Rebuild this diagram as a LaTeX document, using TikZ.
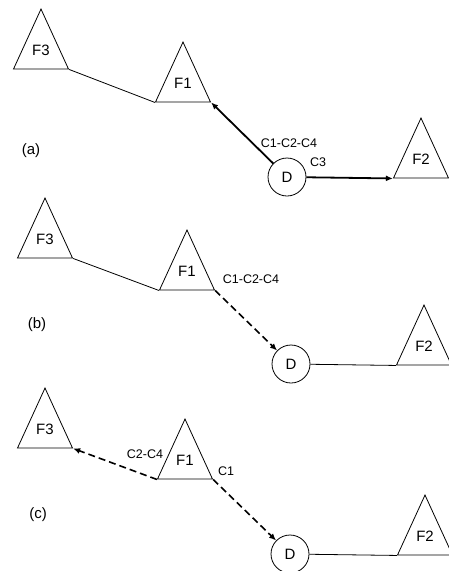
\documentclass[tikz,border=0pt]{standalone}
\usepackage{fontspec}
\setmainfont{Liberation Sans}
\usetikzlibrary{arrows.meta,shapes.geometric}
\tikzset{
  facbox/.style={draw,isosceles triangle,isosceles triangle stretches,shape border rotate=90,minimum width=55pt,minimum height=60pt,inner sep=0pt,anchor=apex,text depth=7pt,line width=0.8pt,font=\fontsize{15}{17}\selectfont},
  depbox/.style={draw,circle,minimum size=38pt,inner sep=0pt,line width=0.8pt,font=\fontsize{15}{17}\selectfont},
  thinlink/.style={line width=0.8pt},
  moveflow/.style={-{Latex[length=7pt,width=6pt]},line width=1.8pt},
  moveplan/.style={-{Latex[length=7pt,width=6pt]},line width=1.6pt,dash pattern=on 7pt off 4pt},
  cutlabel/.style={font=\fontsize{12.5}{14}\selectfont,inner sep=1pt},
  panlabel/.style={font=\fontsize{15}{17}\selectfont},
}
\begin{document}
\begin{tikzpicture}[x=1pt,y=-1pt]
\useasboundingbox (0,0) rectangle (448,571);

% (a)
\node[facbox] (a3) at (41,8) {F3};
\node[facbox] (a1) at (183,41) {F1};
\node[facbox] (a2) at (421,117) {F2};
\node[depbox] (ad) at (287,177) {D};
\node[panlabel] (apan) at (31,151) {(a)};
\node[cutlabel] (ac1) at (289,143) {C1-C2-C4};
\node[cutlabel] (ac3) at (318,162) {C3};
\draw[thinlink](a3.right corner)--(a1.left corner);
\draw[moveflow](ad)--(a1.right corner);\draw[moveflow](ad)--(a2.left corner);

% (b)
\node[facbox] (b3) at (45,197) {F3};
\node[facbox] (b1) at (187,229) {F1};
\node[facbox] (b2) at (424,304) {F2};
\node[depbox] (bd) at (291,364) {D};
\node[panlabel] (bpan) at (37,325) {(b)};
\node[cutlabel] (bc1) at (251,279) {C1-C2-C4};
\draw[thinlink](b3.right corner)--(b1.left corner);\draw[thinlink](bd)--(b2.left corner);
\draw[moveplan](b1.right corner)--(bd);

% (c)
\node[facbox] (c3) at (45,387) {F3};
\node[facbox] (c1) at (185,418) {F1};
\node[facbox] (c2) at (425,494) {F2};
\node[depbox] (cd) at (290,554) {D};
\node[panlabel] (cpan) at (38,515) {(c)};
\node[cutlabel] (cc24) at (145,454) {C2-C4};
\node[cutlabel] (cc1) at (226,471) {C1};
\draw[thinlink](cd)--(c2.left corner);
\draw[moveplan](c1.left corner)--(c3.right corner);\draw[moveplan](c1.right corner)--(cd);
\end{tikzpicture}
\end{document}
